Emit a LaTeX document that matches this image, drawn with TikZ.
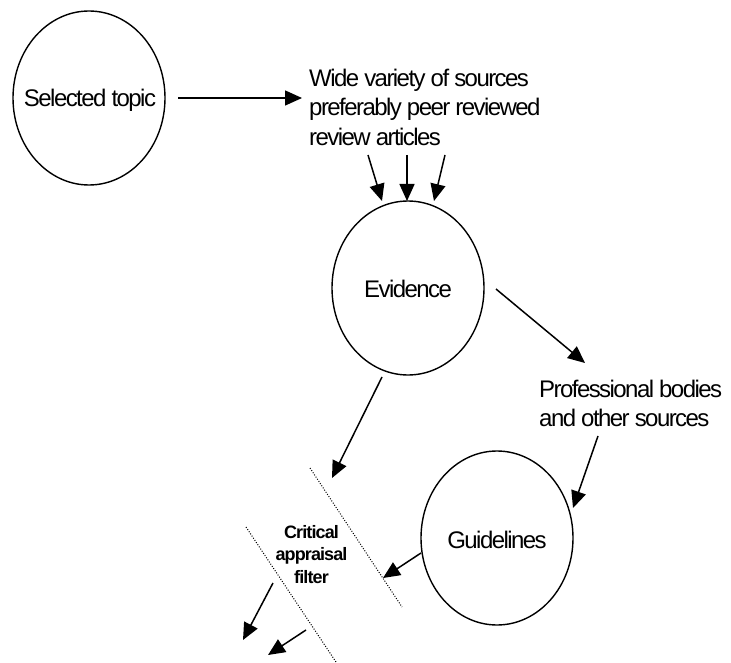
\documentclass[tikz,border=0pt]{standalone}
\usepackage{fontspec}
\setmainfont{Liberation Sans}[LetterSpace=-5]
\newfontfamily\bigfont{Liberation Sans}[LetterSpace=-6.5]
\usetikzlibrary{arrows.meta,shapes.geometric}
\begin{document}
\begin{tikzpicture}[x=1pt,y=-1pt,
  bubble/.style={draw, line width=1.4pt, ellipse, minimum width=152pt, minimum height=174pt, inner sep=0pt},
  bigtext/.style={inner sep=0pt, font=\bigfont\fontsize{24}{29.5}\selectfont},
  blocktext/.style={bigtext, align=left, anchor=north west},
  filtertext/.style={inner sep=0pt, align=center, anchor=north, font=\fontsize{18}{22.5}\selectfont\bfseries},
  arr/.style={line width=1.5pt, -{Triangle[length=17pt,width=15pt]}},
  filterline/.style={line width=1pt, dash pattern=on 1pt off 1.6pt}
]
\useasboundingbox (0,0) rectangle (731,663);

% ellipses
\node[bubble] (sel) at (89,98) {};
\node[bubble] (ev) at (408,288) {};
\node[bubble] (gl) at (497,538) {};

% texts
\node[bigtext, anchor=base] (selt) at (90,107) {Selected topic};
\node[bigtext, anchor=base] (evt) at (408,298) {Evidence};
\node[bigtext, anchor=base] (glt) at (497,548) {Guidelines};
\node[blocktext] (wide) at (309,68.5) {Wide variety of sources\\preferably peer reviewed\\review articles};
\node[blocktext] (prof) at (539,379.5) {Professional bodies\\and other sources};
\node[filtertext] (filt) at (311.5,524.8) {Critical\\appraisal\\filter};

% connector end points
\coordinate (selout) at (178,98);
\coordinate (widein) at (302,98);
\coordinate (w1) at (368,155);
\coordinate (w2) at (407,155);
\coordinate (w3) at (445,155);
\coordinate (e1) at (382,201);
\coordinate (e2) at (407,201);
\coordinate (e3) at (434,201);
\coordinate (evout) at (496,289);
\coordinate (profin) at (585,363);
\coordinate (evdown) at (382,377);
\coordinate (filtin) at (332,478);
\coordinate (profout) at (598,436);
\coordinate (glin) at (573,508);
\coordinate (glout) at (421,553);
\coordinate (filtin2) at (383,578);
\coordinate (o1s) at (273,583);
\coordinate (o1e) at (243,640);
\coordinate (o2s) at (306,630);
\coordinate (o2e) at (268,655);
\coordinate (fa1) at (310,468);
\coordinate (fa2) at (402,607);
\coordinate (fb1) at (246,527);
\coordinate (fb2) at (336,662);

% connectors
\draw[arr] (selout) -- (widein);
\draw[arr] (w1) -- (e1);
\draw[arr] (w2) -- (e2);
\draw[arr] (w3) -- (e3);
\draw[arr] (evout) -- (profin);
\draw[arr] (evdown) -- (filtin);
\draw[arr] (profout) -- (glin);
\draw[arr] (glout) -- (filtin2);
\draw[arr] (o1s) -- (o1e);
\draw[arr] (o2s) -- (o2e);

% filter lines
\draw[filterline] (fa1) -- (fa2);
\draw[filterline] (fb1) -- (fb2);
\end{tikzpicture}
\end{document}
